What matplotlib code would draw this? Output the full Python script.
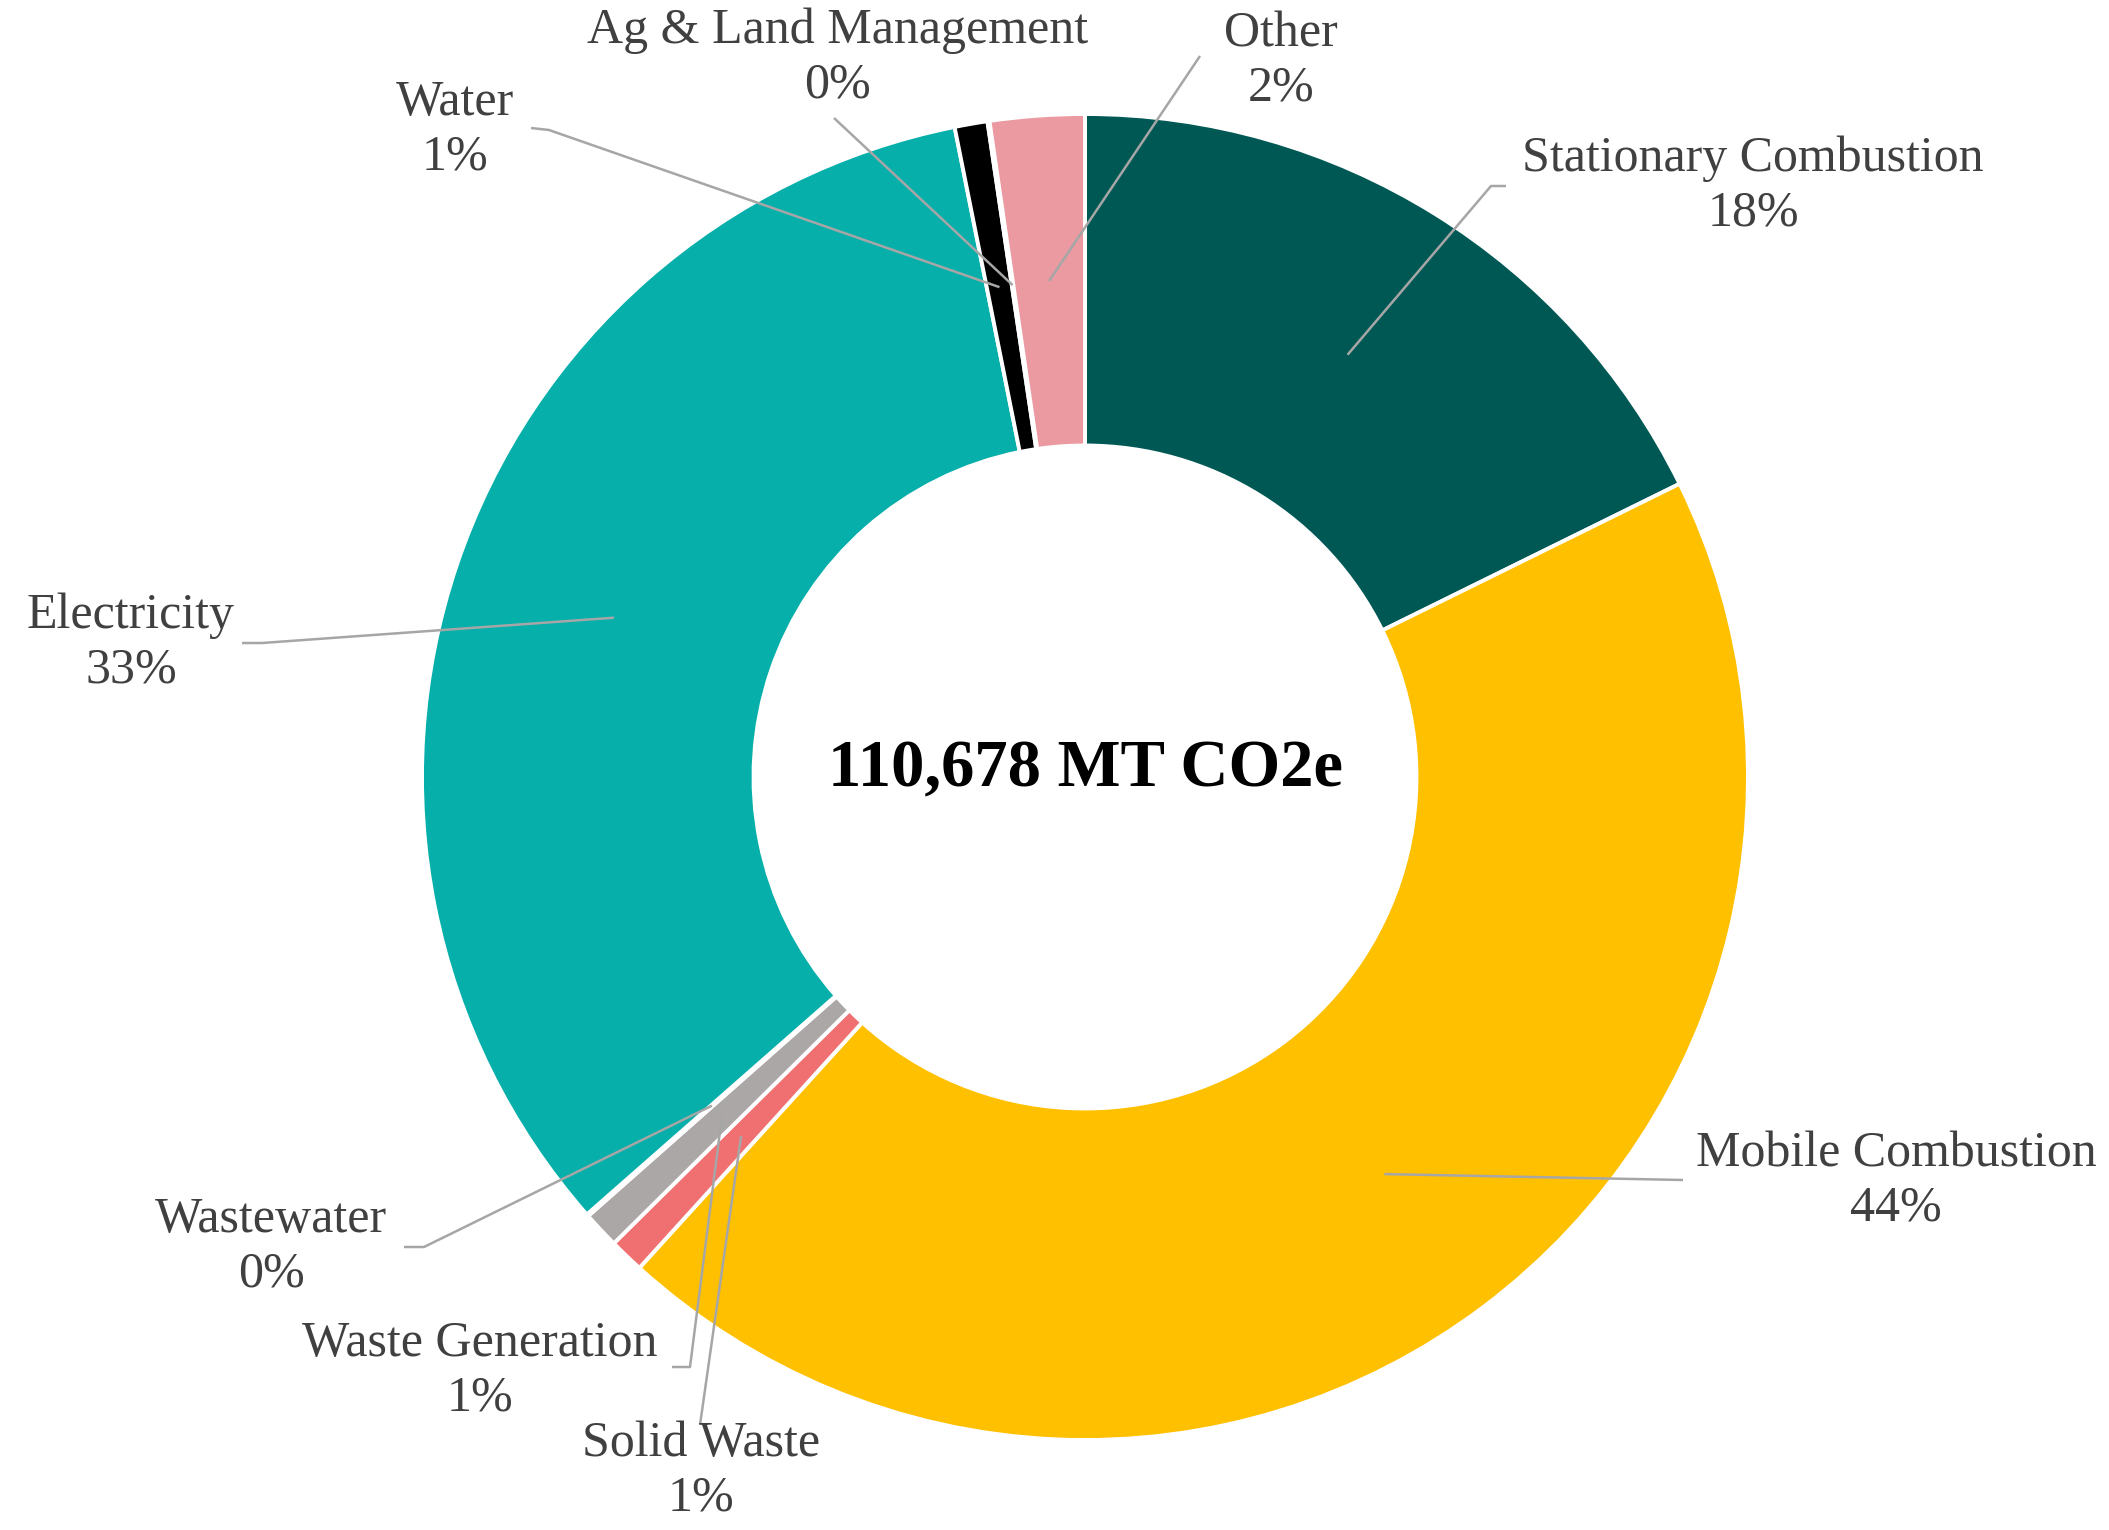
import matplotlib.pyplot as plt
import numpy as np

# data, clockwise from the top
categories = ["Stationary Combustion", "Mobile Combustion", "Solid Waste",
              "Waste Generation", "Wastewater", "Electricity", "Water",
              "Ag & Land Management", "Other"]
shares = [17.7, 44.0, 0.85, 0.9, 0.05, 33.3, 0.8, 0.05, 2.3]
colors = ["#005855", "#FFC000", "#F07072", "#ABA7A6", "#5B9BD5",
          "#06AFAA", "#000000", "#70AD47", "#EA9AA0"]
total_text = "110,678 MT CO2e"

# layout in figure pixels (y measured from top)
W, H = 2109, 1530
cx, cy, R = 1085, 777, 663
# label centre, leader start, elbow (None = no elbow)
label_pos = [(1753, 186), (1896, 1181), (701, 1471), (480, 1371), (271, 1247),
             (131, 643), (455, 130), (838, 58), (1281, 61)]
leader_start = [(1506, 186), (1683, 1180), (700, 1425), (672, 1367), (404, 1247),
                (242, 643), (531, 128), (834, 118), (1200, 56)]
leader_elbow = [(1491, 186), None, None, (690, 1367), (424, 1247),
                (262, 643), (549, 130), None, None]

plt.rcParams['font.family'] = ['Liberation Serif', 'DejaVu Serif']

fig = plt.figure(figsize=(W / 100, H / 100), dpi=100)
ax = fig.add_axes([0, 0, 1, 1])

def fy(y):
    return H - y

wedges, _ = ax.pie(shares, colors=colors, startangle=90, counterclock=False,
                   radius=R, center=(cx, fy(cy)),
                   wedgeprops=dict(width=R * 0.5, edgecolor="white", linewidth=2.8))
ax.set_xlim(0, W)
ax.set_ylim(0, H)
ax.set_aspect("equal")
ax.axis("off")

total = sum(shares)
for i, w in enumerate(wedges):
    # leader ends in the middle of the ring, at the wedge's mid angle
    mid = np.deg2rad((w.theta1 + w.theta2) / 2)
    ex = cx + 0.75 * R * np.cos(mid)
    ey = fy(cy) + 0.75 * R * np.sin(mid)
    xs = [leader_start[i][0]]
    ys = [fy(leader_start[i][1])]
    if leader_elbow[i] is not None:
        xs.append(leader_elbow[i][0])
        ys.append(fy(leader_elbow[i][1]))
    xs.append(ex)
    ys.append(ey)
    ax.plot(xs, ys, color="#A6A6A6", linewidth=1.8, solid_capstyle="butt")
    pct = round(shares[i] / total * 100)
    lx, ly = label_pos[i]
    ax.text(lx, fy(ly), "%s\n%d%%" % (categories[i], pct), ha="center", va="center",
            fontsize=36, color="#404040", linespacing=1.22)

ax.text(cx, fy(cy - 7), total_text, ha="center", va="center", fontsize=48,
        fontweight="bold", color="black")

fig.savefig("out.png", dpi=100)
